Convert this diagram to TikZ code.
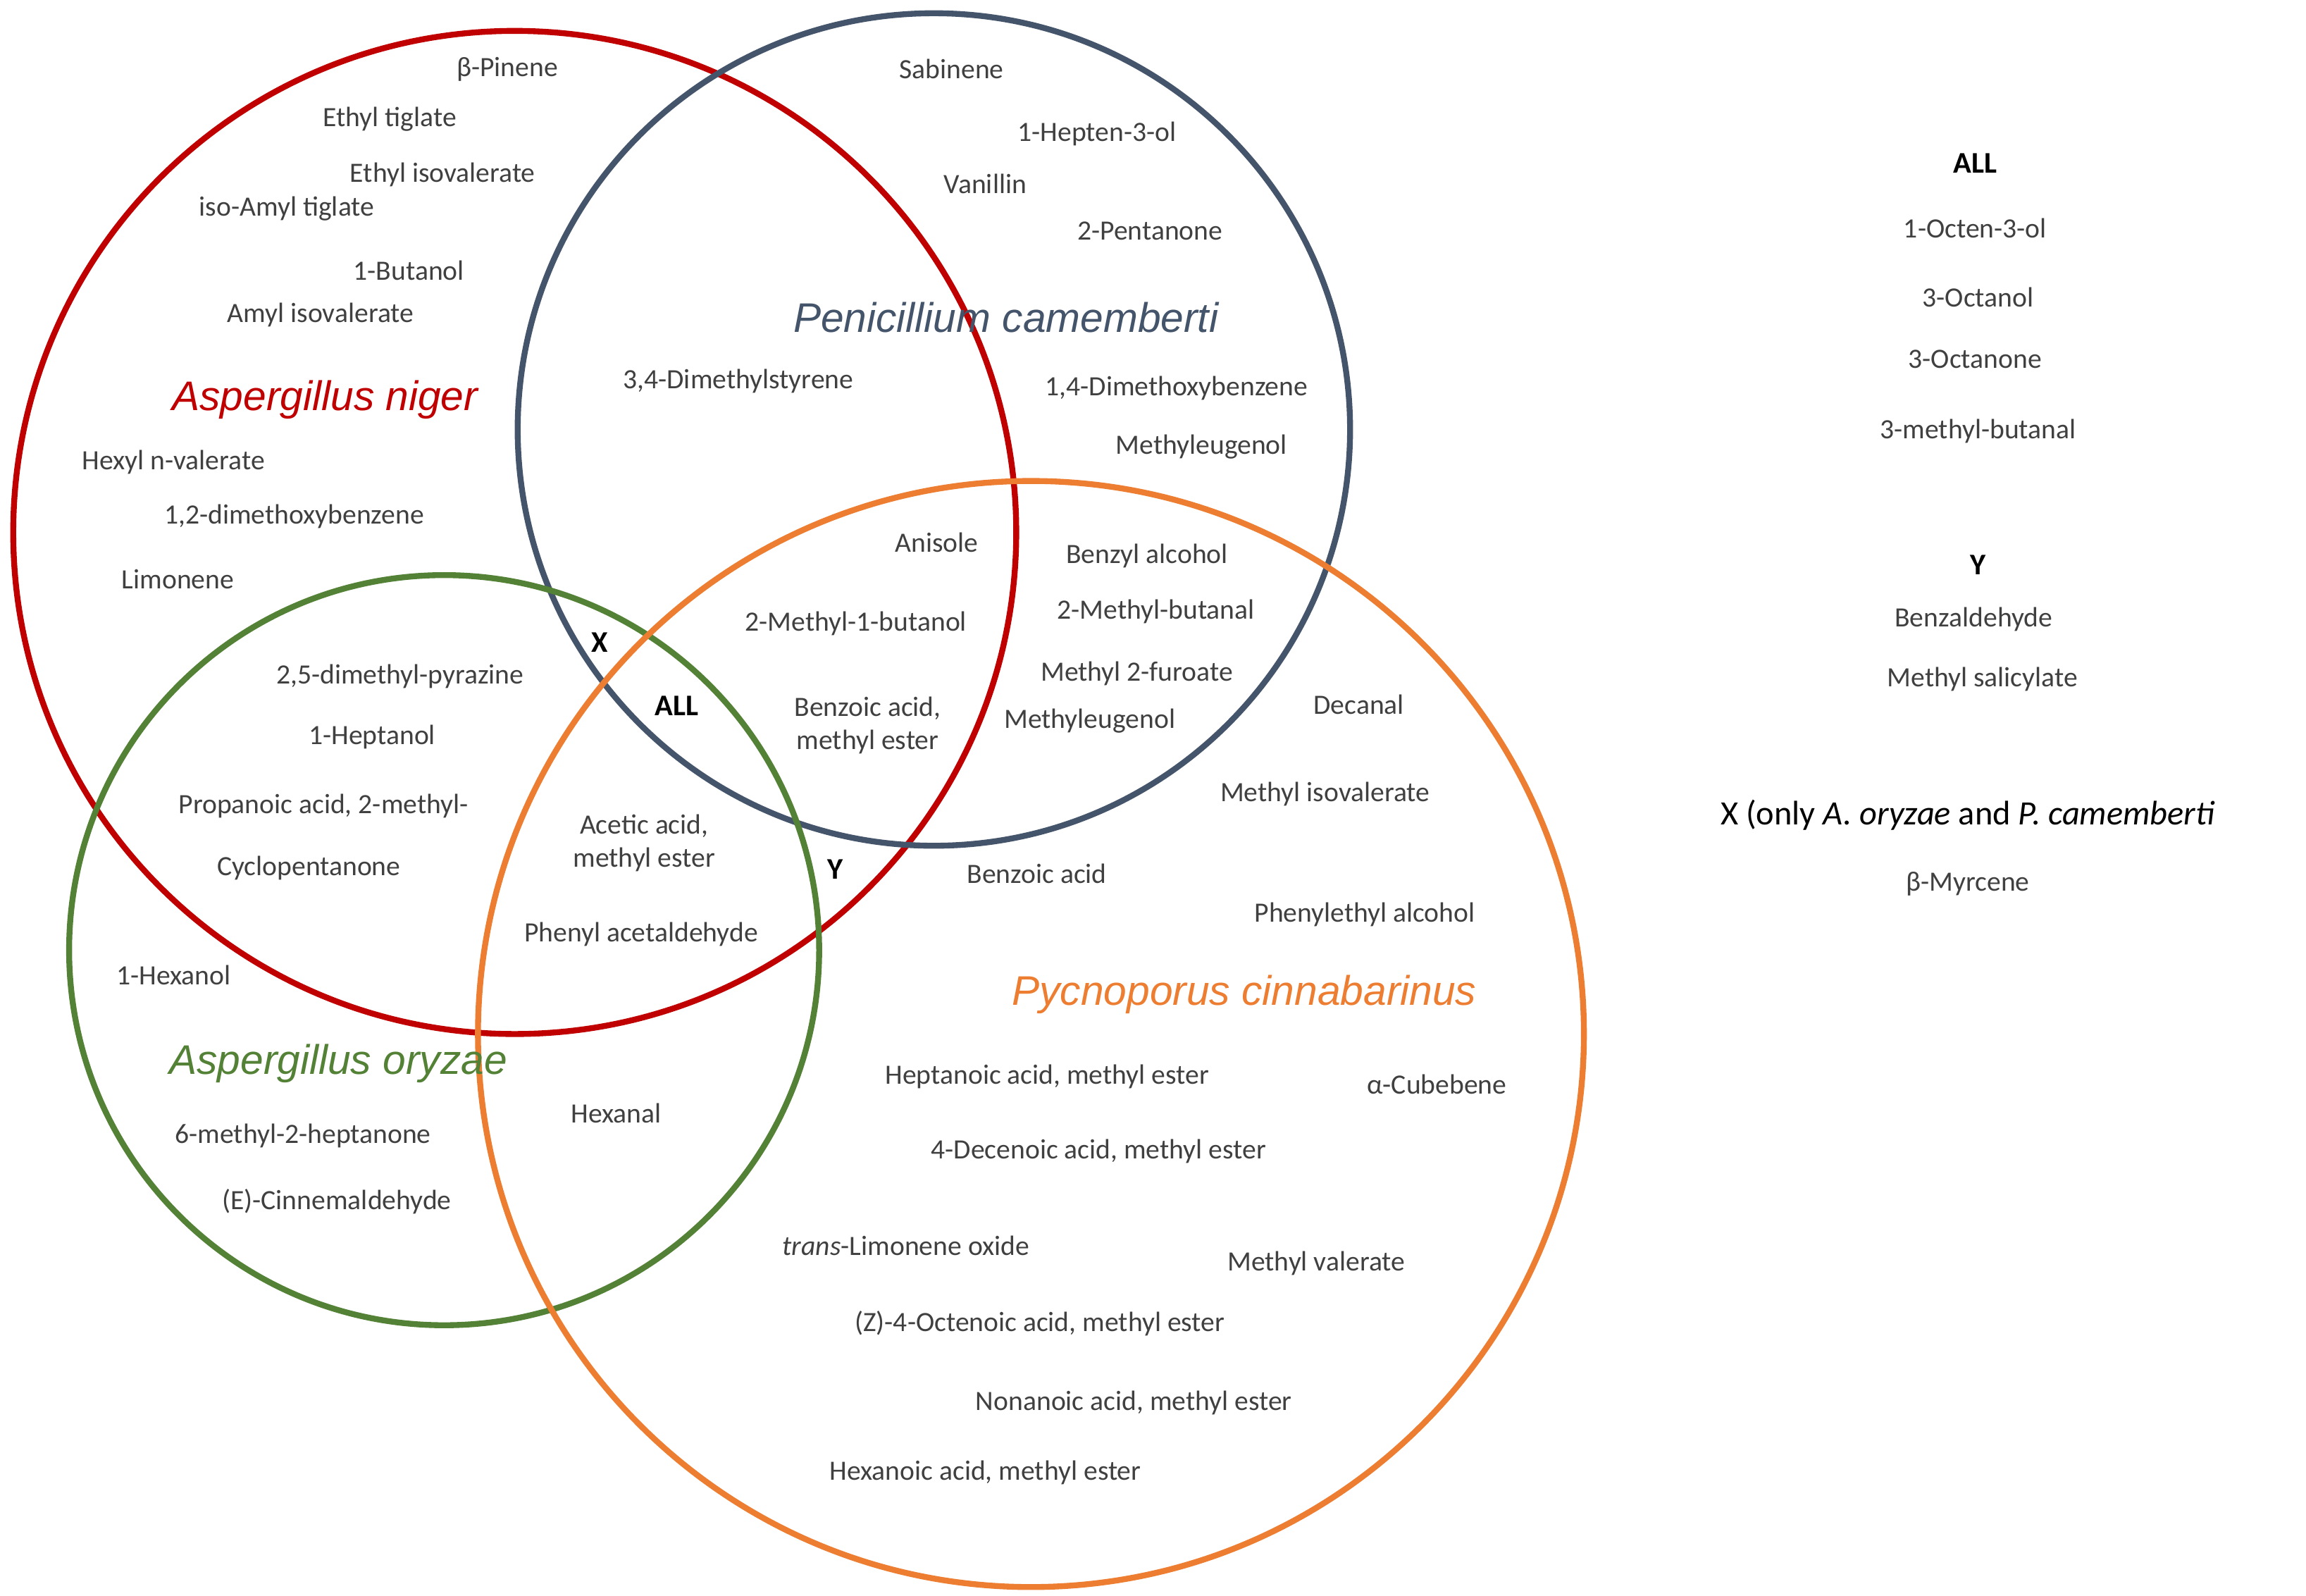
\documentclass[tikz,border=0pt]{standalone}
\usepackage{fontspec}
\setmainfont{Carlito}
\newfontfamily\spfont{Liberation Sans}
\definecolor{cred}{HTML}{C00000}
\definecolor{cblue}{HTML}{44546A}
\definecolor{cgreen}{HTML}{538135}
\definecolor{corange}{HTML}{ED7D31}
\definecolor{ctext}{HTML}{404040}
\begin{document}
\begin{tikzpicture}[x=0.5mm,y=-0.5mm,
  ring/.style={line width=2mm},
  t/.style={text=ctext,font=\fontsize{27}{32}\selectfont,inner sep=0pt,align=center},
  b/.style={text=black,font=\fontsize{29}{34}\selectfont\bfseries,inner sep=0pt},
  sp/.style={font=\fontsize{40}{46}\selectfont\spfont\itshape,inner sep=0pt}]
\useasboundingbox[fill=white] (0,0) rectangle (1568,1085);
\draw[ring,cred] (350,362) circle (341);
\draw[ring,cblue] (635,292) circle (283);
\draw[ring,cgreen] (302,646) circle (255);
\draw[ring,corange] (701,703) circle (376);
% species
\node[sp,cred] (an) at (221,272) {Aspergillus niger};
\node[sp,cblue] (pc) at (684,216) {Penicillium camemberti};
\node[sp,cgreen] (ao) at (230,723) {Aspergillus oryzae};
\node[sp,corange] (pyc) at (846,676) {Pycnoporus cinnabarinus};
% texts
\node[t] (a1) at (345,47) {β-Pinene};
\node[t] (a2) at (265,81) {Ethyl tiglate};
\node[t] (a3) at (301,119) {Ethyl isovalerate};
\node[t] (a4) at (195,142) {iso-Amyl tiglate};
\node[t] (a5) at (278,184) {1-Butanol};
\node[t] (a6) at (218,214) {Amyl isovalerate};
\node[t] (b1) at (647,47) {Sabinene};
\node[t] (b2) at (746,91) {1-Hepten-3-ol};
\node[t] (b3) at (670,125) {Vanillin};
\node[t] (b4) at (782,157) {2-Pentanone};
\node[t] (c1) at (502,259) {3,4-Dimethylstyrene};
\node[t] (b5) at (800,264) {1,4-Dimethoxybenzene};
\node[t] (b6) at (817,304) {Methyleugenol};
\node[t] (a7) at (118,314) {Hexyl n-valerate};
\node[t] (a8) at (200,351) {1,2-dimethoxybenzene};
\node[t] (a9) at (121,394) {Limonene};
\node[t] (c2) at (637,369) {Anisole};
\node[t] (d1) at (780,378) {Benzyl alcohol};
\node[t] (c3) at (582,424) {2-Methyl-1-butanol};
\node[t] (d2) at (786,416) {2-Methyl-butanal};
\node[b] (x) at (408,437) {X};
\node[t] (e1) at (272,460) {2,5-dimethyl-pyrazine};
\node[b] (all) at (460,480) {ALL};
\node[t] (c4) at (590,493) {Benzoic acid,\\methyl ester};
\node[t] (d3) at (773,458) {Methyl 2-furoate};
\node[t] (d4) at (741,490) {Methyleugenol};
\node[t] (p1) at (924,479) {Decanal};
\node[t] (e2) at (253,501) {1-Heptanol};
\node[t] (e3) at (220,548) {Propanoic acid, 2-methyl-};
\node[t] (f1) at (438,573) {Acetic acid,\\methyl ester};
\node[t] (p2) at (901,540) {Methyl isovalerate};
\node[b] (y) at (568,591) {Y};
\node[t] (p3) at (705,594) {Benzoic acid};
\node[t] (e4) at (210,590) {Cyclopentanone};
\node[t] (p4) at (928,622) {Phenylethyl alcohol};
\node[t] (f2) at (436,635) {Phenyl acetaldehyde};
\node[t] (g1) at (118,663) {1-Hexanol};
\node[t] (p5) at (712,732) {Heptanoic acid, methyl ester};
\node[t] (p6) at (977,737) {α-Cubebene};
\node[t] (h1) at (419,757) {Hexanal};
\node[t] (g2) at (206,772) {6-methyl-2-heptanone};
\node[t] (p7) at (747,783) {4-Decenoic acid, methyl ester};
\node[t] (g3) at (229,817) {(E)-Cinnemaldehyde};
\node[t] (p8) at (616,847) {\textit{trans}-Limonene oxide};
\node[t] (p9) at (895,859) {Methyl valerate};
\node[t] (p10) at (707,900) {(Z)-4-Octenoic acid, methyl ester};
\node[t] (p11) at (771,954) {Nonanoic acid, methyl ester};
\node[t] (p12) at (670,1001) {Hexanoic acid, methyl ester};
% legend
\node[b] (rall) at (1343,111) {ALL};
\node[t] (r1) at (1343,155) {1-Octen-3-ol};
\node[t] (r2) at (1345,202) {3-Octanol};
\node[t] (r3) at (1343,244) {3-Octanone};
\node[t] (r4) at (1345,293) {3-methyl-butanal};
\node[b] (ry) at (1345,384) {Y};
\node[t] (r5) at (1342,421) {Benzaldehyde};
\node[t] (r6) at (1348,462) {Methyl salicylate};
\node[t,text=black,font=\fontsize{33}{38}\selectfont] (rx) at (1338,554) {X (only \textit{A. oryzae} and \textit{P. camemberti}};
\node[t] (r7) at (1338,601) {β-Myrcene};
\end{tikzpicture}
\end{document}
